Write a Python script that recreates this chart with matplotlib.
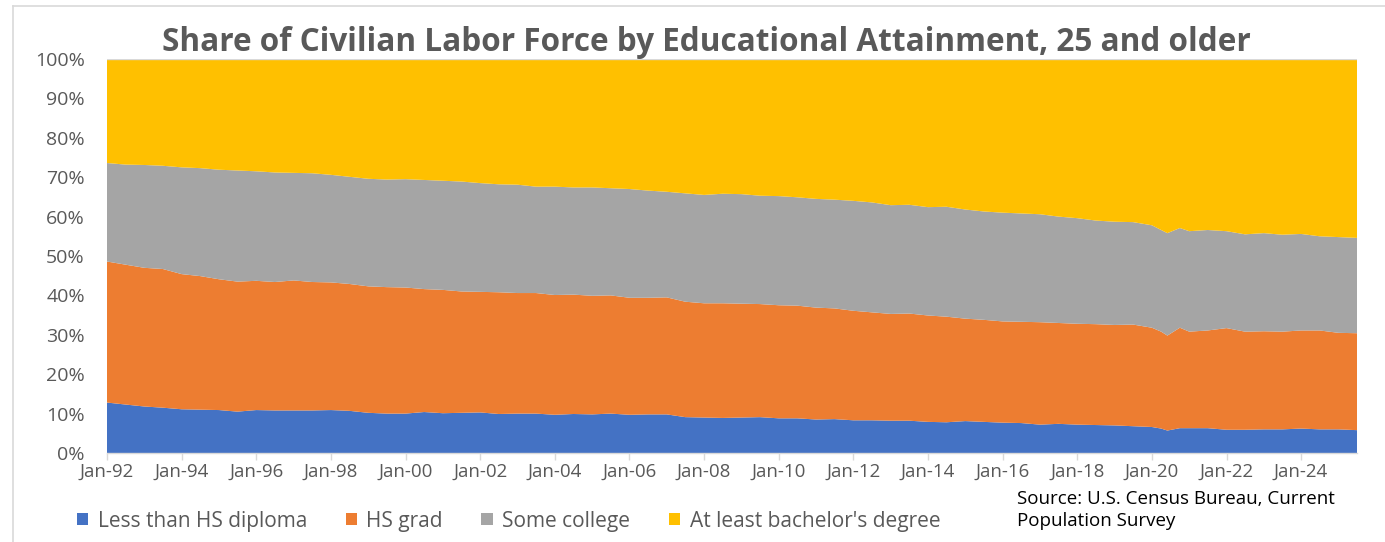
import matplotlib
matplotlib.use("Agg")
import matplotlib.pyplot as plt
import matplotlib.dates as mdates
from matplotlib.lines import Line2D
from matplotlib.patches import Patch
import pandas as pd

# shares of the civilian labor force, age 25+, percent (CPS)
months = [
    "1992-01", "1992-07", "1993-01", "1993-07", "1994-01", "1994-07",
    "1995-01", "1995-07", "1996-01", "1996-07", "1997-01", "1997-07",
    "1998-01", "1998-07", "1999-01", "1999-07", "2000-01", "2000-07",
    "2001-01", "2001-07", "2002-01", "2002-07", "2003-01", "2003-07",
    "2004-01", "2004-07", "2005-01", "2005-07", "2006-01", "2006-07",
    "2007-01", "2007-07", "2008-01", "2008-07", "2009-01", "2009-07",
    "2010-01", "2010-07", "2011-01", "2011-07", "2012-01", "2012-07",
    "2013-01", "2013-07", "2014-01", "2014-07", "2015-01", "2015-07",
    "2016-01", "2016-07", "2017-01", "2017-07", "2018-01", "2018-07",
    "2019-01", "2019-07", "2020-01", "2020-04", "2020-06", "2020-10",
    "2021-01", "2021-07", "2022-01", "2022-07", "2023-01", "2023-07",
    "2024-01", "2024-07", "2025-01", "2025-07",
]
less_than_hs = [
    12.8, 12.3, 11.8, 11.5, 11.1, 11.0, 10.9, 10.5, 10.9, 10.8, 10.8, 10.8,
    10.9, 10.7, 10.2, 10.0, 10.0, 10.4, 10.1, 10.2, 10.3, 9.9, 10.0, 10.0,
    9.7, 9.9, 9.8, 10.0, 9.7, 9.8, 9.8, 9.1, 9.0, 8.9, 9.0, 9.1,
    8.8, 8.8, 8.5, 8.6, 8.3, 8.3, 8.2, 8.2, 7.9, 7.8, 8.1, 7.9,
    7.7, 7.6, 7.2, 7.4, 7.2, 7.1, 7.0, 6.8, 6.6, 6.2, 5.7, 6.3,
    6.3, 6.3, 5.9, 5.9, 6.0, 6.0, 6.2, 6.0, 6.0, 5.8,
]
hs_grad = [
    35.8, 35.5, 35.2, 35.2, 34.3, 33.9, 33.2, 33.0, 32.8, 32.6, 33.0, 32.6,
    32.4, 32.2, 32.1, 32.1, 32.0, 31.2, 31.3, 30.8, 30.6, 30.9, 30.6, 30.6,
    30.4, 30.3, 30.1, 30.0, 29.7, 29.6, 29.7, 29.3, 29.0, 29.1, 28.9, 28.7,
    28.7, 28.6, 28.4, 28.1, 27.8, 27.4, 27.1, 27.2, 27.0, 26.8, 26.0, 25.9,
    25.7, 25.7, 26.0, 25.6, 25.6, 25.6, 25.5, 25.8, 25.2, 24.6, 24.1, 25.5,
    24.5, 24.8, 25.8, 24.9, 24.9, 24.8, 24.9, 25.1, 24.5, 24.6,
]
some_college = [
    25.0, 25.4, 26.1, 26.2, 27.1, 27.4, 27.8, 28.2, 27.8, 27.8, 27.3, 27.6,
    27.3, 27.2, 27.3, 27.3, 27.5, 27.7, 27.7, 27.9, 27.6, 27.4, 27.5, 27.0,
    27.5, 27.2, 27.5, 27.2, 27.6, 27.2, 26.8, 27.5, 27.5, 27.8, 27.8, 27.5,
    27.7, 27.5, 27.6, 27.6, 27.9, 27.9, 27.6, 27.6, 27.5, 27.9, 27.7, 27.5,
    27.6, 27.5, 27.4, 27.0, 26.8, 26.3, 26.2, 26.0, 26.0, 25.8, 26.0, 25.3,
    25.5, 25.5, 24.6, 24.7, 24.9, 24.6, 24.5, 23.9, 24.3, 24.2,
]
bachelors_plus = [
    26.4, 26.8, 26.9, 27.1, 27.5, 27.7, 28.1, 28.3, 28.5, 28.8, 28.9, 29.0,
    29.4, 29.9, 30.4, 30.6, 30.5, 30.7, 30.9, 31.1, 31.5, 31.8, 31.9, 32.4,
    32.4, 32.6, 32.6, 32.8, 33.0, 33.4, 33.7, 34.1, 34.5, 34.2, 34.3, 34.7,
    34.8, 35.1, 35.5, 35.7, 36.0, 36.4, 37.1, 37.0, 37.6, 37.5, 38.2, 38.7,
    39.0, 39.2, 39.4, 40.0, 40.4, 41.0, 41.3, 41.4, 42.2, 43.4, 44.2, 42.9,
    43.7, 43.4, 43.7, 44.5, 44.2, 44.6, 44.4, 45.0, 45.2, 45.4,
]
series_names = ["Less than HS diploma", "HS grad", "Some college",
                "At least bachelor's degree"]
series_colors = ["#4472C4", "#ED7D31", "#A5A5A5", "#FFC000"]

FONT = "Open Sans"
GREY_TEXT = "#595959"
GRID = "#D9D9D9"

dates = pd.to_datetime(months)

fig = plt.figure(figsize=(13.85, 5.42), dpi=100)
ax = fig.add_axes([107 / 1385, 1 - 453 / 542, 1250 / 1385, 394 / 542])

ax.stackplot(dates, less_than_hs, hs_grad, some_college, bachelors_plus,
             colors=series_colors, linewidth=0)

ax.set_xlim(dates[0], dates[-1])
ax.set_ylim(0, 100)
ax.set_yticks(range(0, 101, 10))
ax.set_yticklabels([f"{v}%" for v in range(0, 101, 10)])
ax.axhline(100, color=GRID, linewidth=1.0, zorder=5)

ticks = pd.to_datetime([f"{y}-01-01" for y in range(1992, 2025, 2)])
ax.set_xticks(ticks)
ax.xaxis.set_major_formatter(mdates.DateFormatter("%b-%y"))

for side in ("top", "right", "left"):
    ax.spines[side].set_visible(False)
ax.spines["bottom"].set_color(GRID)
ax.spines["bottom"].set_linewidth(1.0)
ax.spines["bottom"].set_zorder(6)

ax.tick_params(axis="y", length=0, pad=16, labelsize=14, labelcolor=GREY_TEXT)
ax.tick_params(axis="x", length=5, width=1.0, color=GRID, pad=2,
               labelsize=13.5, labelcolor=GREY_TEXT)
for lbl in ax.get_xticklabels() + ax.get_yticklabels():
    lbl.set_fontfamily(FONT)

fig.text(706 / 1385, 1 - 42 / 542, "Share of Civilian Labor Force by Educational "
         "Attainment, 25 and older", ha="center", va="center",
         fontsize=22.7, fontweight="bold", color=GREY_TEXT, family=FONT)

handles = [Patch(facecolor=c, edgecolor="none") for c in series_colors]
fig.legend(handles, series_names, loc="center left",
           bbox_to_anchor=(58 / 1385, 1 - 521 / 542), ncol=4, frameon=False,
           handlelength=0.55, handleheight=0.55, handletextpad=0.45,
           columnspacing=1.85, prop={"family": FONT, "size": 15},
           labelcolor=GREY_TEXT)

fig.text(1017 / 1385, 1 - 499 / 542, "Source: U.S. Census Bureau, Current",
         ha="left", va="center", fontsize=13.5, color="black", family=FONT)
fig.text(1017 / 1385, 1 - 521 / 542, "Population Survey",
         ha="left", va="center", fontsize=13.5, color="black", family=FONT)

# light frame around the chart
fig.add_artist(Line2D([13 / 1385, 1], [1 - 6 / 542, 1 - 6 / 542],
                      color=GRID, linewidth=1.2))
fig.add_artist(Line2D([13 / 1385, 13 / 1385], [0, 1 - 6 / 542],
                      color=GRID, linewidth=1.2))

fig.savefig("out.png", dpi=100)
